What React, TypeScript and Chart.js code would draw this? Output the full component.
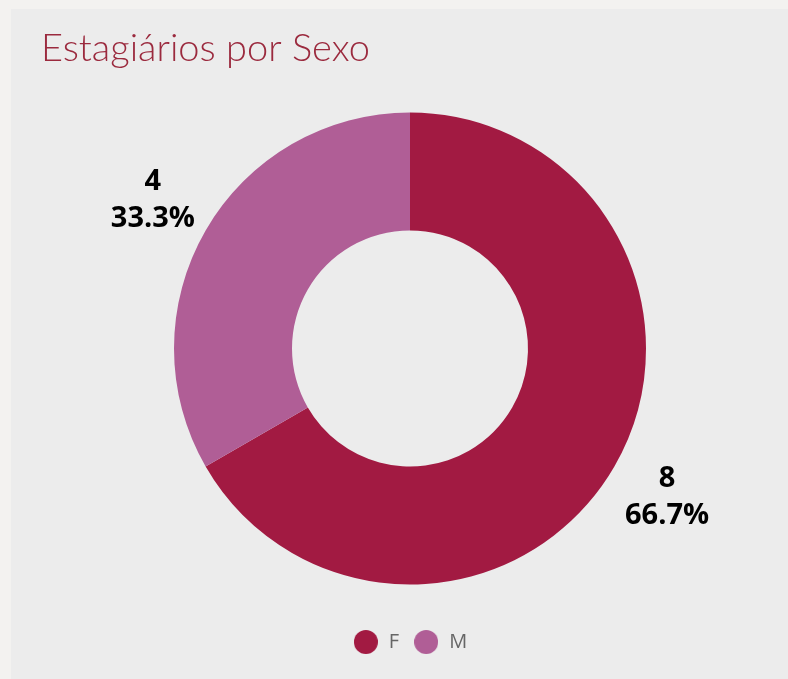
import React, { useEffect, useRef } from "react";
import { Chart, registerables } from "chart.js";

Chart.register(...registerables);

const title = "Estagiários por Sexo";
const categories = ["F", "M"];
const values = [8, 4];
const colors = ["#a21a42", "#b05e96"];

function dot(color: string) {
  const c = document.createElement("canvas");
  c.width = 24;
  c.height = 24;
  const g = c.getContext("2d")!;
  g.fillStyle = color;
  g.beginPath();
  g.arc(12, 12, 12, 0, Math.PI * 2);
  g.fill();
  return c;
}

const outsideLabels = {
  id: "outsideLabels",
  afterDatasetsDraw(chart: any) {
    const ctx = chart.ctx;
    const meta = chart.getDatasetMeta(0);
    const data = chart.data.datasets[0].data as number[];
    const total = data.reduce((a, b) => a + b, 0);
    ctx.save();
    ctx.fillStyle = "#000";
    ctx.textAlign = "center";
    ctx.textBaseline = "middle";
    ctx.font = "bold 29px 'Open Sans', sans-serif";
    meta.data.forEach((arc: any, i: number) => {
      const { x, y, startAngle, endAngle, outerRadius } = arc.getProps(
        ["x", "y", "startAngle", "endAngle", "outerRadius"],
        true
      );
      const mid = (startAngle + endAngle) / 2;
      const r = outerRadius * 1.258;
      const cx = x + Math.cos(mid) * r;
      const cy = y + Math.sin(mid) * r;
      const pct = ((data[i] / total) * 100).toFixed(1) + "%";
      ctx.fillText(String(data[i]), cx, cy - 18.5);
      ctx.fillText(pct, cx, cy + 19);
    });
    ctx.restore();
  },
};

export default function App() {
  const ref = useRef<HTMLCanvasElement>(null);
  useEffect(() => {
    if (!ref.current) return;
    const dots = colors.map(dot);
    const chart = new Chart(ref.current, {
      type: "doughnut",
      data: {
        labels: categories,
        datasets: [
          {
            data: values,
            backgroundColor: colors,
            borderWidth: 0,
          },
        ],
      },
      options: {
        responsive: false,
        animation: false,
        radius: 236,
        cutout: "50%",
        layout: { padding: { left: 30, right: 9, top: 0, bottom: 17 } },
        plugins: {
          title: {
            display: true,
            text: title,
            align: "start",
            color: "#9b2a3e",
            font: { family: "Lato, 'Open Sans', sans-serif", size: 38, weight: "300" as any },
            padding: { top: 17, bottom: 7.4 },
          },
          legend: {
            position: "bottom",
            labels: {
              usePointStyle: true,
              pointStyleWidth: 26,
              color: "#666",
              font: { family: "'Open Sans', sans-serif", size: 20 },
              padding: 14,
              generateLabels(c: any) {
                const base = (Chart as any).overrides.doughnut.plugins.legend.labels.generateLabels(c);
                return base.map((it: any, i: number) => ({ ...it, pointStyle: dots[i] }));
              },
            },
          },
          tooltip: { enabled: false },
        },
      } as any,
      plugins: [outsideLabels],
    });
    return () => chart.destroy();
  }, []);
  return (
    <div style={{ position: "fixed", inset: 0, background: "#f3f2f0" }}>
      <div
        style={{
          position: "absolute",
          left: 11,
          top: 9,
          width: 777,
          height: 670,
          background: "#ececec",
        }}
      >
        <canvas ref={ref} width={777} height={670} style={{ display: "block" }} />
      </div>
    </div>
  );
}
